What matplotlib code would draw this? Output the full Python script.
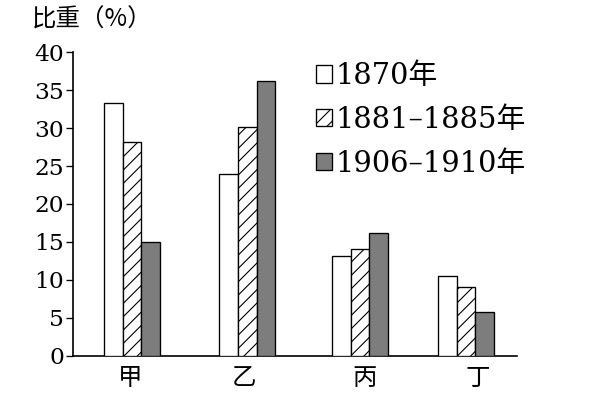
import matplotlib
matplotlib.use('Agg')
import matplotlib.pyplot as plt
from matplotlib.patches import Patch

# data
categories = ['甲', '乙', '丙', '丁']
series_names = ['1870年', '1881\u20131885年', '1906\u20131910年']
share_1870 = [33.3, 24.0, 13.2, 10.5]
share_1881_1885 = [28.2, 30.2, 14.1, 9.0]
share_1906_1910 = [15.0, 36.2, 16.2, 5.8]
y_ticks = [0, 5, 10, 15, 20, 25, 30, 35, 40]

serif = ['DejaVu Serif', 'Noto Sans CJK SC']
cjk = ['Noto Sans CJK SC', 'DejaVu Serif']
plt.rcParams['hatch.linewidth'] = 1.0

DPI = 80
fig = plt.figure(figsize=(599 / DPI, 394 / DPI), dpi=DPI)
ax = fig.add_axes([73 / 599, 38.3 / 394, 444 / 599, 303.4 / 394])

group_x = [0.0, 1.01, 2.0, 2.93]
label_x = [-0.02, 0.98, 2.04, 3.03]
width = 0.164
styles = [
    dict(facecolor='white', hatch=None),
    dict(facecolor='white', hatch='//'),
    dict(facecolor='#7d7d7d', hatch=None),
]
all_series = [share_1870, share_1881_1885, share_1906_1910]

for i, (values, style) in enumerate(zip(all_series, styles)):
    xs = [g + (i - 1) * width for g in group_x]
    ax.bar(xs, values, width=width, edgecolor='black', linewidth=1.2,
           zorder=3, **style)

ax.set_xlim(-0.518, 3.377)
ax.set_ylim(0, 40)
ax.set_yticks(y_ticks)
ax.set_yticklabels([str(t) for t in y_ticks], family=serif, fontsize=21)
ax.set_xticks(label_x)
ax.set_xticklabels(categories, family=cjk, fontsize=22)
ax.tick_params(axis='x', length=0, pad=8)
ax.tick_params(axis='y', length=6, width=1.2, pad=2, direction='out')

for side in ['top', 'right']:
    ax.spines[side].set_visible(False)
ax.spines['left'].set_linewidth(1.5)
ax.spines['bottom'].set_linewidth(1.5)

fig.text(32 / 599, 1 - 20 / 394, '比重（%）', family=cjk, fontsize=22,
         va='center', ha='left')

handles = [Patch(facecolor=s['facecolor'], hatch=s['hatch'], edgecolor='black',
                 linewidth=1.2) for s in styles]
ax.legend(handles, series_names, loc='upper left',
          bbox_to_anchor=(316 / 599, 1 - 62 / 394),
          bbox_transform=fig.transFigure, frameon=False, borderpad=0,
          borderaxespad=0, handlelength=0.56, handleheight=0.56,
          handletextpad=0.1, labelspacing=0.55,
          prop={'family': serif, 'size': 26})

fig.savefig('out.png', dpi=DPI)
